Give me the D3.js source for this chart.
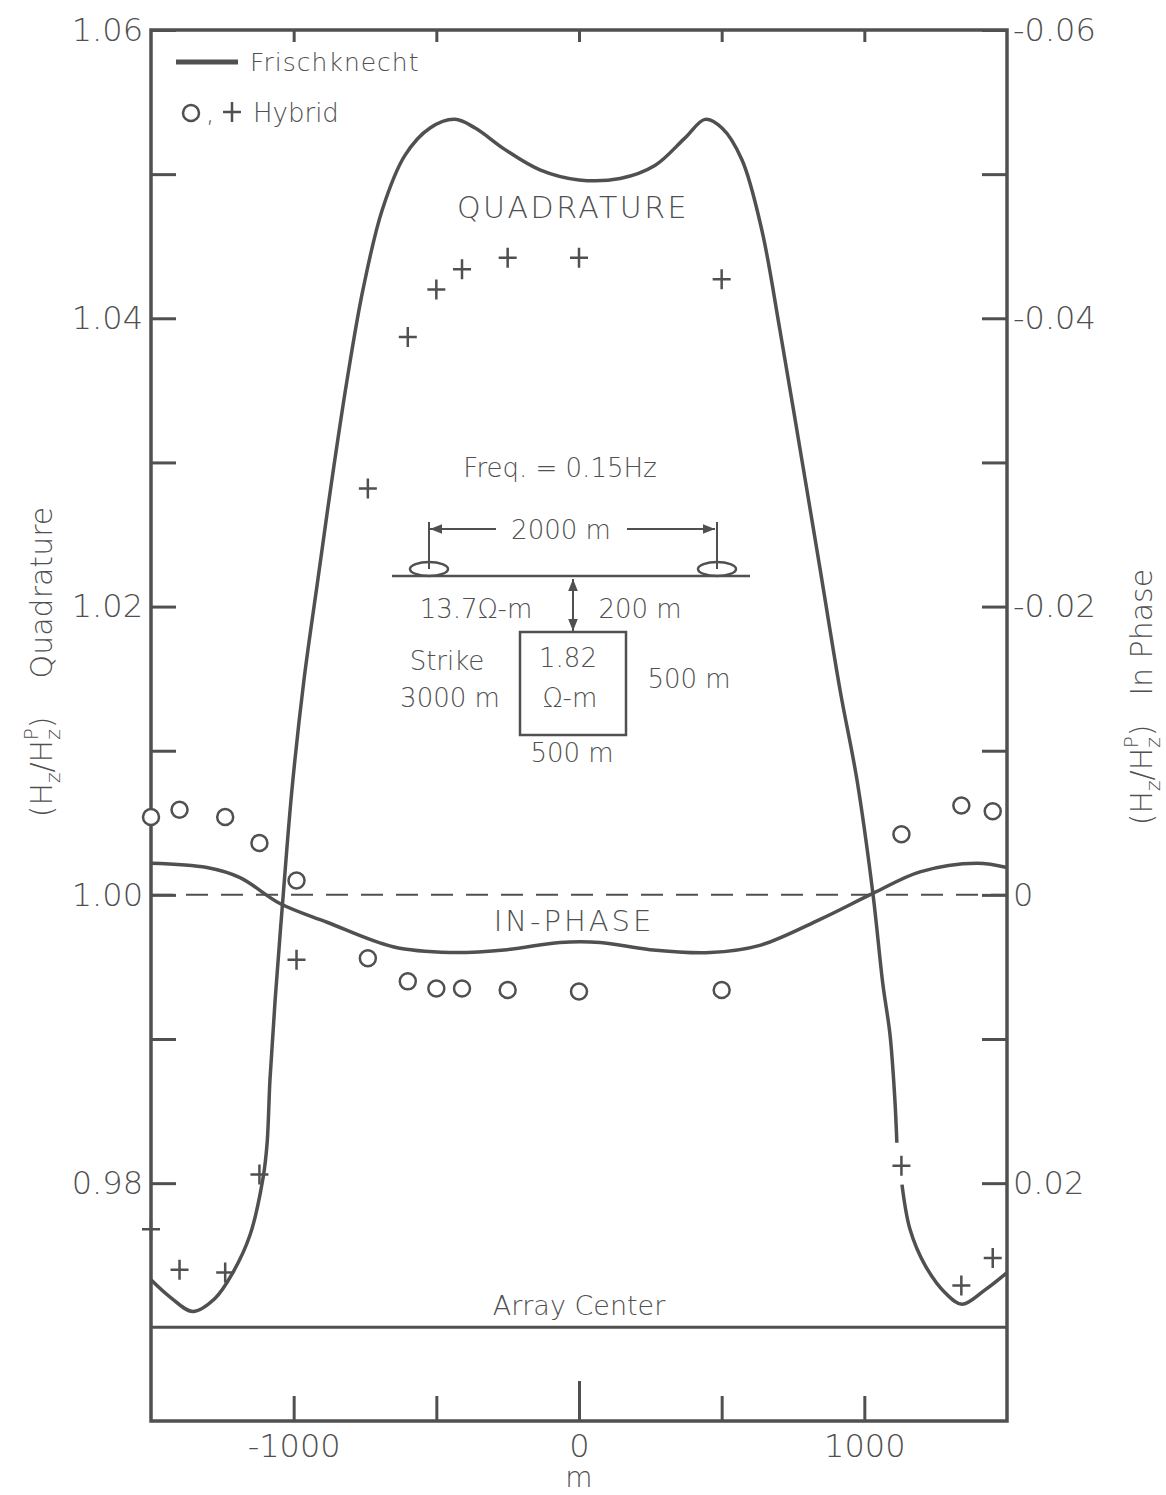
<!DOCTYPE html>
<html>
<head>
<meta charset="utf-8">
<script src="https://cdnjs.cloudflare.com/ajax/libs/d3/7.8.5/d3.min.js"></script>
<style>
  body { margin: 0; background: #fff; }
  svg text { font-family: "DejaVu Sans", "Open Sans", sans-serif; font-weight: 300; fill: #505050; }
  .tick text { font-size: 32px; }
  .lbl { font-size: 26px; }
  .title { font-size: 30px; }
</style>
</head>
<body>
<script>

// stations (m) of the hybrid solution
var stations = [-1500, -1400, -1240, -1120, -990, -740, -600, -500, -410, -250, 0, 500, 1130, 1340, 1450];
// hybrid quadrature (+), left axis
var hybridQuad = [0.9768, 0.9740, 0.9738, 0.9806, 0.9955, 1.0282, 1.0387, 1.0420, 1.0434, 1.0442, 1.0442, 1.0427, 0.9812, 0.9729, 0.9748];
// hybrid in-phase (o), right axis
var hybridInPhase = [-0.0054, -0.0059, -0.0054, -0.0036, -0.0010, 0.0044, 0.0060, 0.0065, 0.0065, 0.0066, 0.0067, 0.0066, -0.0042, -0.0062, -0.0058];

// Frischknecht quadrature curve (null = pen lifted)
var quadX = [-1500, -1433, -1353, -1276, -1213, -1153, -1107, -1093, -1083, -1065, -1037, -1006, -964, -915, -866, -813, -757, -690, -610, -522, -435, -364, -259, -137, 0, 144, 266, 371, 442, 501, 571, 641, 704, 775, 845, 915, 974, 1030, 1065, 1090, 1107, 1114, 1123, 1132, 1160, 1213, 1283, 1342, 1423, 1500];
var quadY = [0.9733, 0.9721, 0.9711, 0.9720, 0.9738, 0.9764, 0.9804, 0.9828, 0.9872, 0.9927, 0.9999, 1.0073, 1.0149, 1.0219, 1.0288, 1.0357, 1.0420, 1.0475, 1.0513, 1.0532, 1.0538, 1.0532, 1.0517, 1.0503, 1.0496, 1.0497, 1.0506, 1.0525, 1.0538, 1.0532, 1.0510, 1.0461, 1.0392, 1.0309, 1.0226, 1.0142, 1.0080, 1.0001, 0.9938, 0.9903, 0.9858, 0.9828, null, 0.9799, 0.9768, 0.9743, 0.9724, 0.9716, 0.9726, 0.9738];

// Frischknecht in-phase curve, right axis
var inPhaseX = [-1500, -1304, -1188, -1048, -883, -652, -452, -252, -67, 74, 249, 459, 634, 845, 1030, 1195, 1395, 1500];
var inPhaseY = [-0.0022, -0.0019, -0.0012, 0.0006, 0.0019, 0.0036, 0.0040, 0.0038, 0.0033, 0.0033, 0.0038, 0.0040, 0.0035, 0.0017, -0.0001, -0.0016, -0.0022, -0.0019];

// axis ticks
var xTicks = [-1000, -500, 0, 500, 1000];
var xLabels = ["-1000", "", "0", "", "1000"];
var leftTicks = [0.98, 0.99, 1.00, 1.01, 1.02, 1.03, 1.04, 1.05, 1.06];
var leftLabels = ["0.98", "", "1.00", "", "1.02", "", "1.04", "", "1.06"];
var rightTicks = [0.02, 0.01, 0, -0.01, -0.02, -0.03, -0.04, -0.05, -0.06];
var rightLabels = ["0.02", "", "0", "", "-0.02", "", "-0.04", "", "-0.06"];

var width = 1166, height = 1495;
var plotL = 151, plotR = 1007, plotT = 30, plotB = 1421;
var ink = "#505050";

var x = d3.scaleLinear().domain([-1500, 1500]).range([plotL, plotR]);
var yL = d3.scaleLinear().domain([0.9635, 1.06]).range([plotB, plotT]);
var yR = d3.scaleLinear().domain([1 - 0.9635, 1 - 1.06]).range([plotB, plotT]);

var svg = d3.select("body").append("svg")
    .attr("width", width)
    .attr("height", height);

// axes, ticks point inward
function lab(ticks, labels) {
    return function(d) { return labels[ticks.indexOf(d)]; };
}

var gB = svg.append("g")
    .attr("transform", "translate(0," + plotB + ")")
    .style("color", ink)
    .call(d3.axisBottom(x).tickValues(xTicks).tickSize(-25).tickSizeOuter(0).tickPadding(13)
        .tickFormat(lab(xTicks, xLabels)));
gB.selectAll(".tick line").filter(function(d) { return d === 0; }).attr("y2", -40);

var gT = svg.append("g")
    .attr("transform", "translate(0," + plotT + ")")
    .style("color", ink)
    .call(d3.axisTop(x).tickValues(xTicks).tickSize(-12).tickSizeOuter(0).tickFormat(""));

var gL = svg.append("g")
    .attr("transform", "translate(" + plotL + ",0)")
    .style("color", ink)
    .call(d3.axisLeft(yL).tickValues(leftTicks).tickSize(-25).tickSizeOuter(0).tickPadding(8)
        .tickFormat(lab(leftTicks, leftLabels)));

var gR = svg.append("g")
    .attr("transform", "translate(" + plotR + ",0)")
    .style("color", ink)
    .call(d3.axisRight(yR).tickValues(rightTicks).tickSize(-25).tickSizeOuter(0).tickPadding(6)
        .tickFormat(lab(rightTicks, rightLabels)));

[gB, gT, gL, gR].forEach(function(g) {
    g.select(".domain").remove();
    g.selectAll(".tick line").attr("stroke-width", 3);
    g.attr("font-family", null).attr("font-size", null);
});

// frame
svg.append("rect")
    .attr("x", plotL).attr("y", plotT)
    .attr("width", plotR - plotL).attr("height", plotB - plotT)
    .attr("fill", "none")
    .attr("stroke", ink)
    .attr("stroke-width", 3.5);

// array center line
svg.append("line")
    .attr("x1", plotL).attr("x2", plotR)
    .attr("y1", yL(0.97)).attr("y2", yL(0.97))
    .attr("stroke", ink).attr("stroke-width", 3);
svg.append("text")
    .attr("x", x(0)).attr("y", yL(0.97) - 12)
    .attr("text-anchor", "middle")
    .style("font-size", "27px")
    .text("Array Center");

// zero line
svg.append("line")
    .attr("x1", plotL).attr("x2", plotR)
    .attr("y1", yL(1)).attr("y2", yL(1))
    .attr("stroke", ink).attr("stroke-width", 2)
    .attr("stroke-dasharray", "22,13");

// curves
var quadLine = d3.line()
    .defined(function(d) { return d[1] !== null; })
    .x(function(d) { return x(d[0]); })
    .y(function(d) { return yL(d[1]); })
    .curve(d3.curveCatmullRom.alpha(0.5));

svg.append("path")
    .datum(quadX.map(function(v, i) { return [v, quadY[i]]; }))
    .attr("d", quadLine)
    .attr("fill", "none").attr("stroke", ink).attr("stroke-width", 3.5);

var ipLine = d3.line()
    .x(function(d) { return x(d[0]); })
    .y(function(d) { return yR(d[1]); })
    .curve(d3.curveCatmullRom.alpha(0.5));

svg.append("path")
    .datum(inPhaseX.map(function(v, i) { return [v, inPhaseY[i]]; }))
    .attr("d", ipLine)
    .attr("fill", "none").attr("stroke", ink).attr("stroke-width", 3.5);

// hybrid markers
var plus = "M-9,0H9M0,-10V10";

svg.selectAll(".quadPt")
    .data(stations)
    .enter().append("path")
    .attr("class", "quadPt")
    .attr("transform", function(d, i) { return "translate(" + x(d) + "," + yL(hybridQuad[i]) + ")"; })
    .attr("d", plus)
    .attr("stroke", ink).attr("stroke-width", 2.5);

svg.selectAll(".ipPt")
    .data(stations)
    .enter().append("circle")
    .attr("class", "ipPt")
    .attr("cx", function(d) { return x(d); })
    .attr("cy", function(d, i) { return yR(hybridInPhase[i]); })
    .attr("r", 8)
    .attr("fill", "#fff")
    .attr("stroke", ink).attr("stroke-width", 2.5);

// legend
svg.append("line")
    .attr("x1", 176).attr("x2", 238).attr("y1", 62).attr("y2", 62)
    .attr("stroke", ink).attr("stroke-width", 5);
svg.append("text").attr("x", 250).attr("y", 71)
    .style("font-size", "25px").style("letter-spacing", "1px").text("Frischknecht");
svg.append("circle").attr("cx", 191).attr("cy", 113).attr("r", 8)
    .attr("fill", "none").attr("stroke", ink).attr("stroke-width", 2.5);
svg.append("text").attr("class", "lbl").attr("x", 206).attr("y", 122).text(",");
svg.append("path").attr("transform", "translate(232,112)").attr("d", plus)
    .attr("stroke", ink).attr("stroke-width", 2.5);
svg.append("text").attr("class", "lbl").attr("x", 253).attr("y", 122).text("Hybrid");

// curve names
svg.append("text").attr("x", 573).attr("y", 218).attr("text-anchor", "middle")
    .style("font-size", "30px").style("letter-spacing", "2.5px").text("QUADRATURE");
svg.append("text").attr("x", 574).attr("y", 931).attr("text-anchor", "middle")
    .style("font-size", "29px").style("letter-spacing", "3px").text("IN-PHASE");

// model sketch
var defs = svg.append("defs");
defs.append("marker")
    .attr("id", "arr")
    .attr("viewBox", "0 0 10 10")
    .attr("refX", 10).attr("refY", 5)
    .attr("markerWidth", 12).attr("markerHeight", 12)
    .attr("orient", "auto-start-reverse")
    .attr("markerUnits", "userSpaceOnUse")
    .append("path").attr("d", "M0,1L10,5L0,9z").attr("fill", ink);

var sk = svg.append("g");
sk.append("text").attr("class", "lbl").attr("x", 560).attr("y", 477).attr("text-anchor", "middle")
    .text("Freq. = 0.15Hz");
sk.append("line").attr("x1", 392).attr("x2", 750).attr("y1", 576).attr("y2", 576)
    .attr("stroke", ink).attr("stroke-width", 2.5);
[429, 717].forEach(function(cx) {
    sk.append("ellipse").attr("cx", cx).attr("cy", 569).attr("rx", 19).attr("ry", 7)
        .attr("fill", "none").attr("stroke", ink).attr("stroke-width", 2.5);
    sk.append("line").attr("x1", cx).attr("x2", cx).attr("y1", 522).attr("y2", 569)
        .attr("stroke", ink).attr("stroke-width", 2);
});
sk.append("line").attr("x1", 496).attr("x2", 430).attr("y1", 529).attr("y2", 529)
    .attr("stroke", ink).attr("stroke-width", 2).attr("marker-end", "url(#arr)");
sk.append("line").attr("x1", 627).attr("x2", 715).attr("y1", 529).attr("y2", 529)
    .attr("stroke", ink).attr("stroke-width", 2).attr("marker-end", "url(#arr)");
sk.append("text").attr("class", "lbl").attr("x", 561).attr("y", 539).attr("text-anchor", "middle")
    .text("2000 m");
sk.append("line").attr("x1", 573).attr("x2", 573).attr("y1", 579).attr("y2", 631)
    .attr("stroke", ink).attr("stroke-width", 2)
    .attr("marker-start", "url(#arr)").attr("marker-end", "url(#arr)");
sk.append("rect").attr("x", 520).attr("y", 632).attr("width", 106).attr("height", 103)
    .attr("fill", "none").attr("stroke", ink).attr("stroke-width", 2.5);

var skText = [
    ["13.7\u03a9-m", 476, 618],
    ["200 m", 640, 618],
    ["Strike", 447, 670],
    ["3000 m", 450, 707],
    ["1.82", 568, 667],
    ["\u03a9-m", 570, 707],
    ["500 m", 689, 688],
    ["500 m", 572, 762]
];
skText.forEach(function(t) {
    sk.append("text").attr("class", "lbl").attr("x", t[1]).attr("y", t[2])
        .attr("text-anchor", "middle").text(t[0]);
});

// axis titles
svg.append("text").attr("x", x(0)).attr("y", 1487).attr("text-anchor", "middle")
    .style("font-size", "28px").text("m");

function hTitle(g) {
    g.append("tspan").text("(H");
    g.append("tspan").attr("dy", 8).style("font-size", "20px").text("z");
    g.append("tspan").attr("dy", -8).text("/H");
    g.append("tspan").attr("dy", 8).style("font-size", "20px").text("z");
    g.append("tspan").attr("dx", -11).attr("dy", -22).style("font-size", "20px").text("P");
    g.append("tspan").attr("dy", 14).text(")");
}

var tl = svg.append("text").attr("class", "title")
    .attr("transform", "translate(52,662) rotate(-90)")
    .attr("text-anchor", "middle");
hTitle(tl);
tl.append("tspan").text("\u00a0\u00a0\u00a0\u00a0Quadrature");

var tr = svg.append("text").attr("class", "title")
    .attr("transform", "translate(1152,697) rotate(-90)")
    .attr("text-anchor", "middle");
hTitle(tr);
tr.append("tspan").text("\u00a0\u00a0\u00a0In Phase");

</script>
</body>
</html>
